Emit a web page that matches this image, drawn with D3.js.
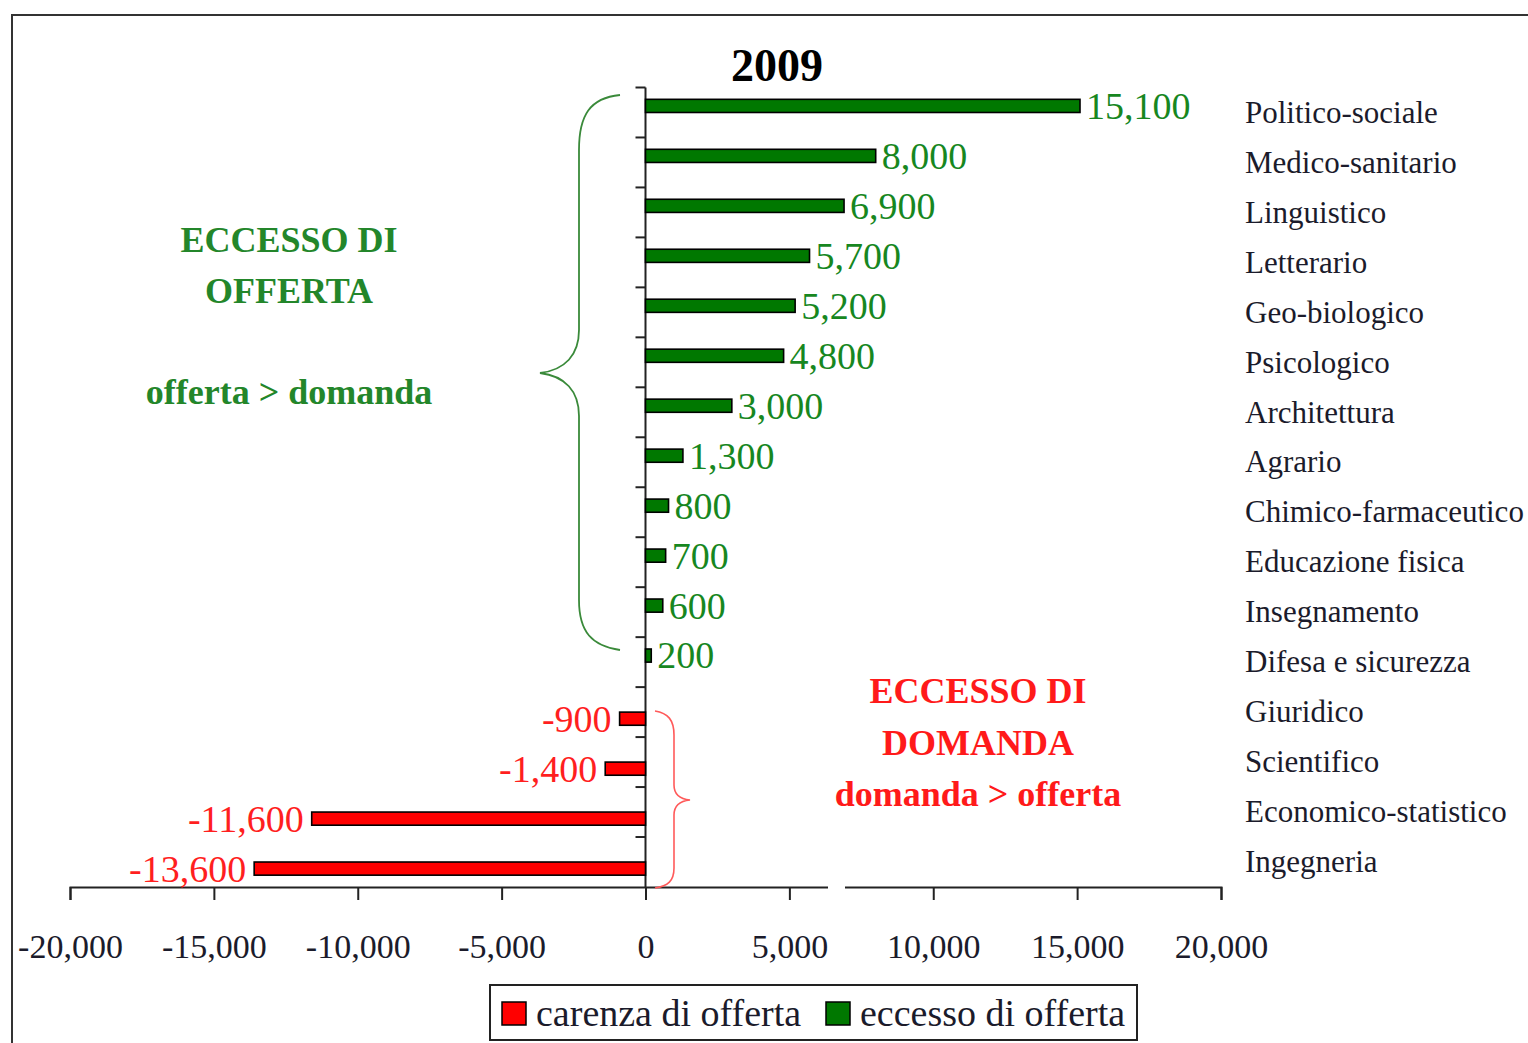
<!DOCTYPE html>
<html>
<head>
<meta charset="utf-8">
<script src="https://cdn.jsdelivr.net/npm/d3@7"></script>
<style>
  body { margin: 0; background: #fff; }
  svg { display: block; }
</style>
</head>
<body>
<svg id="chart" width="1528" height="1043"></svg>
<script>
// dati 2009 (differenza offerta - domanda per gruppo di laurea)
var categories = ["Politico-sociale", "Medico-sanitario", "Linguistico", "Letterario",
  "Geo-biologico", "Psicologico", "Architettura", "Agrario", "Chimico-farmaceutico",
  "Educazione fisica", "Insegnamento", "Difesa e sicurezza", "Giuridico", "Scientifico",
  "Economico-statistico", "Ingegneria"]
var eccesso = [15100, 8000, 6900, 5700, 5200, 4800, 3000, 1300, 800, 700, 600, 200, 0, 0, 0, 0]
var carenza = [0, 0, 0, 0, 0, 0, 0, 0, 0, 0, 0, 0, -900, -1400, -11600, -13600]
var xTicks = [-20000, -15000, -10000, -5000, 0, 5000, 10000, 15000, 20000]
var seriesNames = ["carenza di offerta", "eccesso di offerta"]

var green = "#007800"
var red = "#ff0000"
var greenText = "#17871f"
var redText = "#ff1f1f"
var serif = "'Liberation Serif', 'Times New Roman', serif"

// formato con il trattino normale come segno meno
var fmt = function (v) { return d3.format(",")(v).replace("\u2212", "-") }

var svg = d3.select("#chart")

// cornice
svg.append("rect")
  .attr("x", 12).attr("y", 15)
  .attr("width", 1560).attr("height", 1060)
  .attr("fill", "none").attr("stroke", "#333").attr("stroke-width", 2)

// scale
var xScale = d3.scaleLinear().domain([-20000, 20000]).range([70, 1221])
var yScale = d3.scaleBand().domain(categories).range([87.5, 887]).paddingInner(0)
var slot = d3.scaleBand().domain(["eccesso", "carenza"]).range([0, yScale.bandwidth()]).paddingOuter(0.9)
var axisY = 887

// titolo
svg.append("text")
  .attr("x", 777).attr("y", 81)
  .attr("text-anchor", "middle")
  .attr("font-family", serif).attr("font-weight", "bold").attr("font-size", 46)
  .attr("fill", "#000")
  .text("2009")

// asse x
var xAxis = d3.axisBottom(xScale).tickValues(xTicks).tickSize(13).tickFormat(fmt)
var gx = svg.append("g")
  .attr("class", "xAxis")
  .attr("transform", "translate(0," + axisY + ")")
  .call(xAxis)
gx.select(".domain").attr("stroke", "#222").attr("stroke-width", 2)
gx.selectAll(".tick line").attr("stroke", "#222").attr("stroke-width", 2)
gx.selectAll(".tick text")
  .attr("y", 71).attr("dy", 0)
  .attr("font-family", serif).attr("font-size", 34)
  .attr("fill", "#1b1b2b")

// interruzione della linea dell'asse (sotto la casella di testo)
svg.append("rect")
  .attr("x", 828).attr("y", axisY - 4).attr("width", 17).attr("height", 8)
  .attr("fill", "#fff")

// asse y (linea a zero con tacche tra le categorie)
var x0 = xScale(0)
svg.append("line")
  .attr("x1", x0).attr("x2", x0)
  .attr("y1", yScale.range()[0]).attr("y2", axisY)
  .attr("stroke", "#222").attr("stroke-width", 2)
var bounds = d3.range(categories.length).map(function (i) { return yScale(categories[i]) })
svg.selectAll(".ytick")
  .data(bounds)
  .enter()
  .append("line")
  .attr("class", "ytick")
  .attr("x1", x0 - 10).attr("x2", x0)
  .attr("y1", function (d) { return d }).attr("y2", function (d) { return d })
  .attr("stroke", "#222").attr("stroke-width", 2)

// barre
var rows = categories.map(function (c, i) { return { cat: c, pos: eccesso[i], neg: carenza[i] } })

svg.selectAll(".barPos")
  .data(rows.filter(function (d) { return d.pos > 0 }))
  .enter()
  .append("rect")
  .attr("class", "barPos")
  .attr("x", x0)
  .attr("y", function (d) { return yScale(d.cat) + slot("eccesso") })
  .attr("width", function (d) { return xScale(d.pos) - x0 })
  .attr("height", slot.bandwidth())
  .attr("fill", green).attr("stroke", "#000").attr("stroke-width", 1.6)

svg.selectAll(".barNeg")
  .data(rows.filter(function (d) { return d.neg < 0 }))
  .enter()
  .append("rect")
  .attr("class", "barNeg")
  .attr("x", function (d) { return xScale(d.neg) })
  .attr("y", function (d) { return yScale(d.cat) + slot("carenza") })
  .attr("width", function (d) { return x0 - xScale(d.neg) })
  .attr("height", slot.bandwidth())
  .attr("fill", red).attr("stroke", "#000").attr("stroke-width", 1.6)

// etichette valori
svg.selectAll(".lblPos")
  .data(rows.filter(function (d) { return d.pos > 0 }))
  .enter()
  .append("text")
  .attr("class", "lblPos")
  .attr("x", function (d) { return xScale(d.pos) + 6 })
  .attr("y", function (d) { return yScale(d.cat) + slot("eccesso") + slot.bandwidth() / 2 })
  .attr("dy", "0.34em")
  .attr("font-family", serif).attr("font-size", 38)
  .attr("fill", greenText)
  .text(function (d) { return fmt(d.pos) })

svg.selectAll(".lblNeg")
  .data(rows.filter(function (d) { return d.neg < 0 }))
  .enter()
  .append("text")
  .attr("class", "lblNeg")
  .attr("x", function (d) { return xScale(d.neg) - 8 })
  .attr("y", function (d) { return yScale(d.cat) + slot("carenza") + slot.bandwidth() / 2 })
  .attr("dy", "0.34em")
  .attr("text-anchor", "end")
  .attr("font-family", serif).attr("font-size", 38)
  .attr("fill", redText)
  .text(function (d) { return fmt(d.neg) })

// nomi delle categorie a destra
svg.selectAll(".catLabel")
  .data(categories)
  .enter()
  .append("text")
  .attr("class", "catLabel")
  .attr("x", 1245)
  .attr("y", function (d) { return yScale(d) + yScale.bandwidth() / 2 })
  .attr("dy", "0.33em")
  .attr("font-family", serif).attr("font-size", 31)
  .attr("fill", "#1b1b2b")
  .text(function (d) { return d })

// parentesi graffe
svg.append("path")
  .attr("d", "M620,95 C590,98 579,115 579,150 L579,330 C579,355 565,370 540,373 " +
    "C565,376 579,391 579,416 L579,600 C579,632 592,646 620,650")
  .attr("fill", "none").attr("stroke", "#3a8a3a").attr("stroke-width", 1.8)

svg.append("path")
  .attr("d", "M655,711 C668,713 674,720 674,735 L674,785 C674,794 680,799 690,800 " +
    "C680,801 674,806 674,815 L674,868 C674,881 668,886 655,888")
  .attr("fill", "none").attr("stroke", "#ff5a5a").attr("stroke-width", 1.6)

// annotazioni
function note(lines, x, color) {
  lines.forEach(function (l) {
    svg.append("text")
      .attr("x", x).attr("y", l[1])
      .attr("text-anchor", "middle")
      .attr("font-family", serif).attr("font-weight", "bold").attr("font-size", 36)
      .attr("fill", color)
      .text(l[0])
  })
}
note([["ECCESSO DI", 252], ["OFFERTA", 303], ["offerta > domanda", 404]], 289, "#23862a")
note([["ECCESSO DI", 703], ["DOMANDA", 755], ["domanda > offerta", 806]], 978, "#ff1a1a")

// legenda
var legend = svg.append("g").attr("class", "legend")
legend.append("rect")
  .attr("x", 490).attr("y", 985).attr("width", 647).attr("height", 55)
  .attr("fill", "#fff").attr("stroke", "#222").attr("stroke-width", 2)
var legendItems = [
  { name: seriesNames[0], color: red, x: 502 },
  { name: seriesNames[1], color: green, x: 826 }
]
legendItems.forEach(function (it) {
  legend.append("rect")
    .attr("x", it.x).attr("y", 1002).attr("width", 24).attr("height", 23)
    .attr("fill", it.color).attr("stroke", "#000").attr("stroke-width", 1.5)
  legend.append("text")
    .attr("x", it.x + 34).attr("y", 1026)
    .attr("font-family", serif).attr("font-size", 38)
    .attr("fill", "#1b1b2b")
    .text(it.name)
})
</script>
</body>
</html>
